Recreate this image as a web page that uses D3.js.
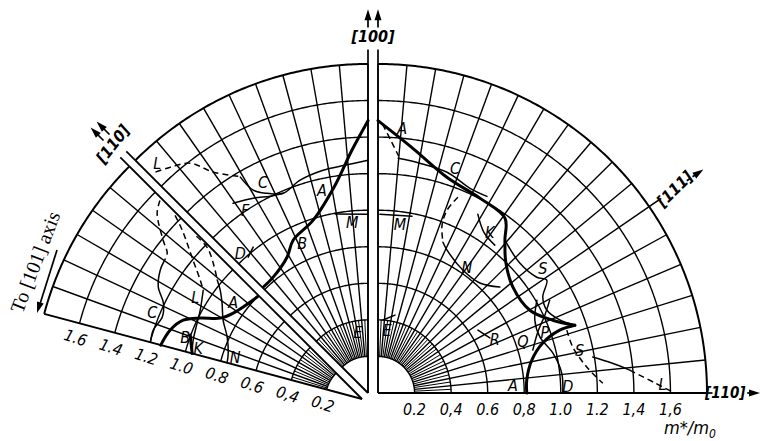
<!DOCTYPE html>
<html>
<head>
<meta charset="utf-8">
<script src="https://cdn.jsdelivr.net/npm/d3@7"></script>
<style>
  body { margin: 0; background: #fff; }
  svg { display: block; }
  .lbl { font-family: "DejaVu Sans", sans-serif; font-style: italic; font-stretch: condensed; fill: #000; }
</style>
</head>
<body>
<svg id="chart" width="761" height="441"></svg>
<script>
// ---- scale values -------------------------------------------------------
const RINGS = [0.2, 0.4, 0.6, 0.8, 1.0, 1.2, 1.4, 1.6, 1.8];
const TICKS = [0.2, 0.4, 0.6, 0.8, 1.0, 1.2, 1.4, 1.6];
const TICK_TEXT_RIGHT = ["0.2", "0,4", "0.6", "0,8", "1.0", "1.2", "1,4", "1,6"];
const TICK_TEXT_LEFT  = ["0.2", "0,4", "0.6", "0.8", "1.0", "1.2", "1.4", "1.6"];
const PSI_111 = 55.5;   // [111] measured from [100] in the right-hand plane, deg
const PSI_110_L = 45;   // [110] in the left-hand plane, deg
const PSI_END_L = 75;   // end of the left-hand plane (towards [101]), deg

// ---- effective-mass curves: [field angle from [100] (deg), m*/m0] --------
// right-hand plane, [100] -> [111] -> [110]
const rA1    = [[0,1.49],[8.1,1.352],[17.7,1.239],[27.6,1.203],[36,1.182],[39.7,1.087],[44.3,1.001],[51.9,0.938],[61.4,0.946],[67.4,1.036],[71,1.139]];
const rA2    = [[71,1.139],[70.9,1.052],[73.1,0.942],[77.9,0.861],[85,0.817],[90,0.814]];
const rAdash = [[1,1.47],[3,1.38],[5,1.30]];
const rC     = [[4.9,1.289],[10.3,1.278],[17.5,1.265],[24.2,1.228],[29,1.23]];
const rK     = [[29.2,1.12],[33.4,1.053],[38.3,1.031]];
const rNdash = [[22.2,1.157],[20.7,1.069],[20.9,0.982],[23.3,0.898]];
const rN     = [[23.3,0.898],[25.8,0.868],[34.6,0.817],[42.8,0.82],[49,0.883]];
const rS     = [[39.7,1.087],[47.5,1.052],[53.9,1.075],[56.2,1.111],[59.8,1.043],[63.8,1.029],[68.1,1.072],[71,1.139]];
const rQD    = [[59.7,1.007],[65.1,0.946],[70.9,0.937],[77.1,0.981],[83.8,1.011],[90,1.011]];
const rP     = [[61.6,1.068],[65,1.007],[69.1,0.936],[74.5,0.879]];
const rSdash = [[71.6,1.089],[76.7,1.095],[82.9,1.151],[87.5,1.231]];
const rL     = [[80.5,1.191],[82.7,1.289],[84.8,1.383]];
const rLdash = [[84.8,1.383],[87.9,1.515],[90,1.623]];
const rR     = [[57.8,0.646],[63.8,0.682]];
const rE     = [[3.9,0.40],[12.3,0.436]];
const rM     = [[0.6,0.978],[10.9,0.985]];

// left-hand plane, [100] -> [110] (upper part) and on towards [101] (lower part)
const lA1     = [[0,1.49],[3.8,1.331],[9,1.151],[17.6,0.992],[26.1,0.931],[30.8,0.865],[39.3,0.819],[44.5,0.815]];
const lA2     = [[45.5,0.80],[56.3,0.847],[60.3,0.893],[63.4,0.99],[66.2,1.069],[70.2,1.115],[75,1.14]];
const lC      = [[0,1.273],[5.8,1.252],[11.4,1.243],[17.7,1.222],[23,1.187],[26.8,1.224],[29.5,1.275],[30.6,1.372]];
const lF      = [[35.4,1.274],[30.5,1.237],[26.4,1.202],[23,1.187]];
const lLdash  = [[30.9,1.382],[35,1.475],[37.7,1.589],[41.2,1.642],[44.5,1.685]];
const lM      = [[0,0.978],[10.4,0.995]];
const lD      = [[38.2,1.016],[41.4,0.991]];
const lCdash  = [[45.5,1.55],[47.8,1.513],[51.4,1.392],[53.2,1.331],[55,1.32]];
const lCsolid = [[55,1.32],[57.4,1.31],[61.2,1.272],[64.2,1.207],[67.7,1.181],[71.7,1.203],[75,1.198]];
const lLdash2 = [[45.5,1.434],[46.8,1.349],[50.6,1.196],[53.7,1.098],[55.6,1.053]];
const lL      = [[55.6,1.053],[61.2,1.01],[65.3,0.993],[70.8,0.978],[75,0.962]];
const lK      = [[69.6,1.003],[75,0.962]];
const lNdash  = [[45.5,1.27],[45.6,1.186],[47.6,1.102],[50.6,1.025]];
const lN      = [[50.6,1.025],[52.5,0.978],[55.6,0.928],[60.4,0.874],[65.3,0.812],[71,0.774],[75,0.764]];

// curve letters: [letter, field angle, m*/m0]
const LETTERS_R  = [["A",5.2,1.454],["C",18.9,1.299],["K",34.8,1.072],["M",7.4,0.931],["N",35.2,0.843],["S",52.9,1.131],["E",8.1,0.348],["R",65.6,0.702],["Q",70.3,0.842],["P",70.2,0.97],["S",78,1.128],["D",87.9,1.039],["A",87,0.739],["L",88.2,1.558]];
const LETTERS_LU = [["L",42.5,1.706],["C",26.5,1.288],["F",33.9,1.205],["A",12.8,1.137],["M",5.3,0.938],["B",23.7,0.896],["D",42.4,1.037],["E",9.3,0.338]];
const LETTERS_LL = [["L",58.6,1.069],["A",53.1,0.882],["C",67.7,1.24],["B",70.7,1.025],["K",72.7,0.938],["N",71.7,0.731]];

// ---- drawing ------------------------------------------------------------
const svg = d3.select("#chart");
svg.append("rect").attr("width", 761).attr("height", 441).attr("fill", "#fff");

const rScale = d3.scaleLinear().domain([0, 1.8]).range([0, 329]);
const rad = d => d * Math.PI / 180;

// each plane drawn about its own origin; sign flips the sense of rotation
const planes = {
  right:     { ox: 378, oy: 393, sign:  1, lo: 0,         hi: 90 },
  leftUpper: { ox: 368, oy: 393, sign: -1, lo: 0,         hi: PSI_110_L },
  leftLower: { ox: 362, oy: 399, sign: -1, lo: PSI_110_L, hi: PSI_END_L }
};
const ang = (p, psi) => p.sign * rad(psi);
const pt = (p, psi, m) => {
  const a = ang(p, psi), r = rScale(m);
  return [p.ox + r * Math.sin(a), p.oy - r * Math.cos(a)];
};
const radial = p => d3.lineRadial().angle(d => ang(p, d[0])).radius(d => rScale(d[1]));

// radial grid directions
const spokes = {
  right: d3.range(0, 12).map(i => i * PSI_111 / 11)
           .concat(d3.range(1, 7).map(i => PSI_111 + i * (90 - PSI_111) / 6)),
  leftUpper: d3.range(0, 10).map(i => i * 5),
  leftLower: d3.range(9, 16).map(i => i * 5)
};

const grid = svg.append("g").attr("fill", "none").attr("stroke", "#000");
Object.entries(planes).forEach(([key, p]) => {
  const g = grid.append("g").attr("transform", `translate(${p.ox},${p.oy})`);
  const sp = spokes[key];
  // rings
  RINGS.forEach(v => {
    const pts = d3.range(p.lo, p.hi + 0.001, 0.5).map(a => [a, v]);
    g.append("path").attr("d", radial(p)(pts))
      .attr("stroke-width", v === 1.8 ? 2 : 1.4);
  });
  // full spokes
  sp.forEach((a, i) => {
    const edge = (i === 0 || i === sp.length - 1);
    g.append("path")
      .attr("d", radial(p)([[a, edge ? 0 : 0.2], [a, 1.8]]))
      .attr("stroke-width", edge ? 1.9 : 1.4);
  });
  // short spokes between the two innermost rings
  d3.pairs(sp).forEach(([a, b]) => {
    g.append("path").attr("d", radial(p)([[(a + b) / 2, 0.2], [(a + b) / 2, 0.4]]))
      .attr("stroke-width", 1);
  });
});

// ---- axes beyond the outer ring -------------------------------------------
const ax = svg.append("g");
function arrowHead(tip, dir, len = 11, half = 3.5) {
  const [x, y] = tip, c = Math.cos(dir), s = Math.sin(dir);
  const bx = x - len * c, by = y - len * s;
  return `M${x},${y}L${bx - half * s},${by + half * c}L${bx + half * s},${by - half * c}Z`;
}
function stub(p, psi, r0, r1, dash) {
  const a = pt(p, psi, r0), b = pt(p, psi, r1);
  ax.append("line").attr("x1", a[0]).attr("y1", a[1]).attr("x2", b[0]).attr("y2", b[1])
    .attr("stroke", "#000").attr("stroke-width", 1.7)
    .attr("stroke-dasharray", dash || null);
}
function axisArrow(p, psi, r0, r1, dash) {
  stub(p, psi, r0, r1 - 0.04, dash);
  const tip = pt(p, psi, r1), from = pt(p, psi, r0);
  const dir = Math.atan2(tip[1] - from[1], tip[0] - from[0]);
  ax.append("path").attr("d", arrowHead(tip, dir)).attr("fill", "#000");
}
// [100] : double arrow between the two planes
stub(planes.right, 0, 1.8, 1.88); stub(planes.leftUpper, 0, 1.8, 1.88);
axisArrow(planes.right, 0, 2.0, 2.1); axisArrow(planes.leftUpper, 0, 2.0, 2.1);
// [110] diagonal of the left plane
stub(planes.leftUpper, 45, 1.8, 1.87); stub(planes.leftLower, 45, 1.8, 1.87);
axisArrow(planes.leftUpper, 45, 2.0, 2.1); axisArrow(planes.leftLower, 45, 2.0, 2.1);
// [111] and [110] of the right plane
stub(planes.right, PSI_111, 1.8, 1.88);
axisArrow(planes.right, PSI_111, 2.05, 2.16, "4,3");
stub(planes.right, 90, 1.8, 1.83);
axisArrow(planes.right, 90, 2.02, 2.09, "4,3");

function axisText(txt, xy, rot, size) {
  ax.append("text").attr("class", "lbl")
    .attr("transform", `translate(${xy[0]},${xy[1]}) rotate(${rot})`)
    .attr("text-anchor", "middle").attr("dominant-baseline", "central")
    .attr("font-size", size || 16).attr("font-weight", "bold").text(txt);
}
axisText("[100]", [(planes.right.ox + planes.leftUpper.ox) / 2, pt(planes.right, 0, 1.95)[1]], 0);
{
  const a = pt(planes.leftUpper, 45, 1.95), b = pt(planes.leftLower, 45, 1.95);
  axisText("[110]", [(a[0] + b[0]) / 2, (a[1] + b[1]) / 2], -52);
}
axisText("[111]", pt(planes.right, PSI_111, 1.97), -(90 - PSI_111) - 10);
axisText("[110]", pt(planes.right, 90, 1.9), 0, 15);

// m*/m0
{
  const t = ax.append("text").attr("class", "lbl").attr("x", 690).attr("y", 434)
    .attr("text-anchor", "middle").attr("font-size", 18);
  t.append("tspan").text("m*/m");
  t.append("tspan").attr("font-size", 12).attr("dy", 4).text("0");
}

// "To [101] axis"
ax.append("text")
  .attr("transform", "translate(35,262) rotate(-69)")
  .attr("text-anchor", "middle").attr("dominant-baseline", "central")
  .attr("font-family", "Liberation Serif, serif").attr("font-size", 20)
  .text("To [101] axis");
ax.append("line").attr("x1", 57).attr("y1", 250).attr("x2", 40).attr("y2", 304)
  .attr("stroke", "#000").attr("stroke-width", 1.7);
ax.append("path").attr("d", arrowHead([37, 313], Math.atan2(63, -20), 11, 3.5)).attr("fill", "#000");

// ---- tick labels --------------------------------------------------------
TICKS.forEach((v, i) => {
  const [x] = pt(planes.right, 90, v);
  ax.append("text").attr("class", "lbl").attr("x", x).attr("y", 409)
    .attr("text-anchor", "middle").attr("dominant-baseline", "central")
    .attr("font-size", 16).text(TICK_TEXT_RIGHT[i]);
  const b = pt(planes.leftLower, PSI_END_L, v);
  const off = 15, nx = -Math.sin(rad(15)), ny = Math.cos(rad(15));
  ax.append("text").attr("class", "lbl")
    .attr("transform", `translate(${b[0] + off * nx},${b[1] + off * ny}) rotate(18)`)
    .attr("text-anchor", "middle").attr("dominant-baseline", "central")
    .attr("font-size", 16).text(TICK_TEXT_LEFT[i]);
});

// ---- curves -------------------------------------------------------------
const curves = svg.append("g").attr("fill", "none").attr("stroke", "#000")
  .attr("stroke-linecap", "round").attr("stroke-linejoin", "round");
function drawCurve(p, data, style) {
  const gen = radial(p).curve(data.length > 2 ? d3.curveCatmullRom.alpha(0.5) : d3.curveLinear);
  curves.append("path").attr("transform", `translate(${p.ox},${p.oy})`)
    .attr("d", gen(data))
    .attr("stroke-width", style === "thick" ? 3 : 1.5)
    .attr("stroke-dasharray", style === "dash" ? "6,4" : null)
    .attr("stroke-linecap", style === "dash" ? "butt" : "round");
}
const R = planes.right, LU = planes.leftUpper, LL = planes.leftLower;
[[rA1,"thick"],[rA2,"thick"],[rAdash,"dash"],[rC,"thin"],[rK,"thin"],[rNdash,"dash"],[rN,"thin"],
 [rS,"thin"],[rQD,"thin"],[rP,"thin"],[rSdash,"dash"],[rL,"thin"],[rLdash,"dash"],[rR,"thin"],
 [rE,"thin"],[rM,"thin"]].forEach(([d, s]) => drawCurve(R, d, s));
[[lA1,"thick"],[lC,"thin"],[lF,"thin"],[lLdash,"dash"],[lM,"thin"],[lD,"thin"]]
  .forEach(([d, s]) => drawCurve(LU, d, s));
[[lA2,"thick"],[lCdash,"dash"],[lCsolid,"thin"],[lLdash2,"dash"],[lL,"thin"],[lK,"thick"],
 [lNdash,"dash"],[lN,"thin"]].forEach(([d, s]) => drawCurve(LL, d, s));

// ---- curve letters ------------------------------------------------------
const letters = svg.append("g");
[[R, LETTERS_R], [LU, LETTERS_LU], [LL, LETTERS_LL]].forEach(([p, list]) => {
  list.forEach(([t, psi, m]) => {
    const [x, y] = pt(p, psi, m);
    letters.append("text").attr("class", "lbl").attr("x", x).attr("y", y)
      .attr("text-anchor", "middle").attr("dominant-baseline", "central")
      .attr("font-size", 16).text(t);
  });
});
</script>
</body>
</html>
